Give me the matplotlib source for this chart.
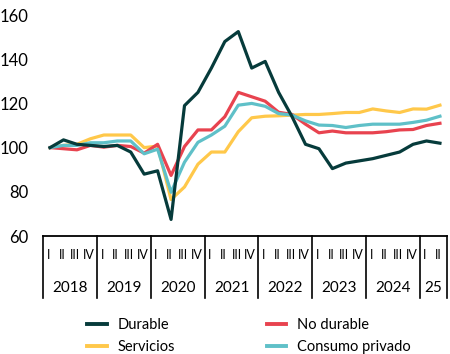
import numpy as np
import matplotlib
matplotlib.use("Agg")
import matplotlib.pyplot as plt
from matplotlib.lines import Line2D

plt.rcParams['font.family'] = ['Lato', 'DejaVu Sans']

# quarterly index, 2018 Q1 = 100, up to 2025 Q2
years = ['2018', '2019', '2020', '2021', '2022', '2023', '2024', '25']
quarters = ['I', 'II', 'III', 'IV']

durable = [100, 103.5, 101.5, 101, 100.5, 101, 98, 88, 89.5, 67.5,
           119, 125, 136, 148, 152.5, 136, 139, 125, 114, 101.5,
           99.5, 90.5, 93, 94, 95, 96.5, 98, 101.5, 103, 102]
no_durable = [100, 99.5, 99, 101, 100.2, 101, 100.5, 97.5, 101.5, 87.4,
              100.5, 108, 108, 114, 125, 123, 121, 116, 115, 110.6,
              106.7, 107.5, 106.7, 106.7, 106.7, 107.2, 108, 108.2, 110, 111]
servicios = [100, 101, 101.5, 104, 105.7, 105.7, 105.7, 100, 100.7, 76.5,
             82.2, 92.5, 98, 98, 107.2, 113.5, 114.2, 114.4, 114.7, 115,
             115, 115.4, 115.9, 115.9, 117.5, 116.6, 115.9, 117.5, 117.4, 119.2]
consumo = [100, 101, 101, 102.2, 102.2, 103, 103, 97.2, 99.3, 79.8,
           93.4, 102.4, 105.7, 109.7, 119.2, 120, 118.7, 115.4, 114.7, 112.1,
           110.2, 110, 109.1, 110, 110.6, 110.6, 110.6, 111.4, 112.4, 114.2]

c_dur = '#063b3b'
c_nod = '#e8434f'
c_ser = '#ffc84a'
c_con = '#5fc0c8'

fig = plt.figure(figsize=(4.5, 3.54), dpi=100)
ax = fig.add_axes([0.0963, 0.3333, 0.8963, 0.6243])

x = np.arange(len(durable))
lw = 2.3
ax.plot(x, servicios, color=c_ser, lw=lw)
ax.plot(x, no_durable, color=c_nod, lw=lw)
ax.plot(x, consumo, color=c_con, lw=lw)
ax.plot(x, durable, color=c_dur, lw=lw)

ax.set_xlim(-0.5, len(durable) - 0.5)
ax.set_ylim(60, 160)
ax.set_yticks(range(60, 161, 20))
ax.tick_params(axis='y', length=0, pad=11, labelsize=12)
ax.set_xticks([])
for s in ['top', 'right', 'left']:
    ax.spines[s].set_visible(False)
ax.spines['bottom'].set_linewidth(1.3)

# year separators and labels below the axis
trans = ax.get_xaxis_transform()
seps = [-0.5 + 4 * k for k in range(8)] + [len(durable) - 0.5]
for s in seps:
    ax.plot([s, s], [0, -0.28], transform=trans, color='black', lw=1.2,
            clip_on=False)
for i in range(len(durable)):
    ax.text(i - 0.12, -0.086, quarters[i % 4], transform=trans, ha='center',
            va='center', fontsize=9)
for k, yr in enumerate(years):
    start = 4 * k
    end = min(start + 4, len(durable))
    ax.text((start + end - 1) / 2, -0.235, yr, transform=trans, ha='center',
            va='center', fontsize=11)

handles = [Line2D([], [], color=c_dur, lw=2.8),
           Line2D([], [], color=c_ser, lw=2.8),
           Line2D([], [], color=c_nod, lw=2.8),
           Line2D([], [], color=c_con, lw=2.8)]
labels = ['Durable', 'Servicios', 'No durable', 'Consumo privado']
fig.legend(handles, labels, ncol=2, loc='center', bbox_to_anchor=(0.553, 0.05),
           frameon=False, fontsize=10.5, handlelength=1.35, handletextpad=0.7,
           columnspacing=6.3, labelspacing=0.55)

fig.savefig('out.png', dpi=100)
